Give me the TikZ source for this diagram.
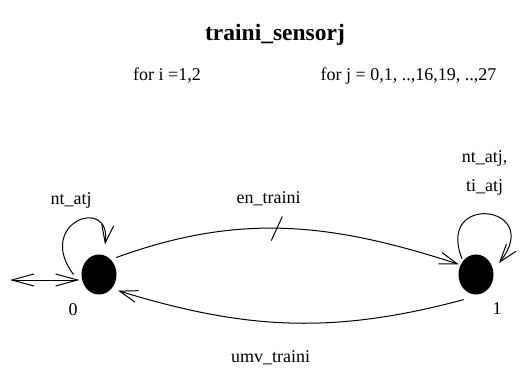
\documentclass[tikz,border=0pt]{standalone}
\usepackage{fontspec}
\setmainfont{Liberation Serif}
\usetikzlibrary{arrows.meta,shapes,positioning}

\tikzset{
  loc/.style={
    ellipse, fill=black, draw=black,
    minimum width=34pt, minimum height=39pt,
    inner sep=0pt
  },
  lbl/.style={
    font=\fontsize{18}{29}\selectfont,
    inner sep=0pt, align=center
  },
  ttl/.style={
    font=\fontsize{23.5}{28}\selectfont\bfseries,
    inner sep=0pt
  }
}
\def\locsep{377}

\begin{document}
\begin{tikzpicture}[x=1pt, y=1pt, line width=1pt, >={Straight Barb[length=18pt, width=12pt]}, node distance=\locsep pt]
    \useasboundingbox (0,0) rectangle (525,-369);

    %% Title and ranges
    \node[ttl] (title) at (275,-35) {traini\_sensorj};
    \node[lbl] (rangei) at (167,-76) {for i =1,2};
    \node[lbl] (rangej) at (408.5,-76) {for j = 0,1, ..,16,19, ..,27};

    %% Locations
    \node[loc] (l0) at (99,-274.5) {};
    \node[loc, right of=l0] (l1) {};
    \node[lbl, below of=l0, node distance=35.5pt, xshift=-26pt] (l0name) {0};
    \node[lbl, below of=l1, node distance=34.5pt, xshift=21pt] (l1name) {1};

    %% Initial arrow
    \coordinate[left of=l0, node distance=89pt, yshift=-5.5pt] (init);
    \draw[{Straight Barb[length=22pt, width=12pt]}-{Straight Barb[length=22pt, width=12pt]}, shorten >=2pt] (init) -- (init -| l0.west);

    %% Self loops
    \draw[->] ([xshift=-8pt]l0.west) .. controls +(-39,52) and +(7,50) .. ([shift={(6pt,10pt)}]l0.north);
    \node[lbl, above of=l0, node distance=74.5pt, xshift=-28pt] (loop0lbl) {nt\_atj};
    \draw[->] ([xshift=-3pt]l1.125) .. controls +(-27,67) and +(46,58) .. ([shift={(5.5pt,11.5pt)}]l1.east);
    \node[lbl, above of=l1, node distance=102pt, xshift=8.5pt] (loop1lbl) {nt\_atj,\\ti\_atj};

    %% Transitions
    \draw[->, shorten <=6pt, shorten >=2pt] (l0.52) to[out=20, in=162]
      node[lbl, pos=.45, yshift=30pt] (enlbl) {en\_traini}
      coordinate[pos=.475] (tk) (l1.148);
    \draw (tk) ++(-5.5,-12) -- ++(11,24);
    \draw[->, shorten >=7pt] ([yshift=-11pt]l1.south west) to[out=195, in=-17]
      node[lbl, pos=.55, yshift=-36pt] (umvlbl) {umv\_traini} (l0.south east);

\end{tikzpicture}
\end{document}
